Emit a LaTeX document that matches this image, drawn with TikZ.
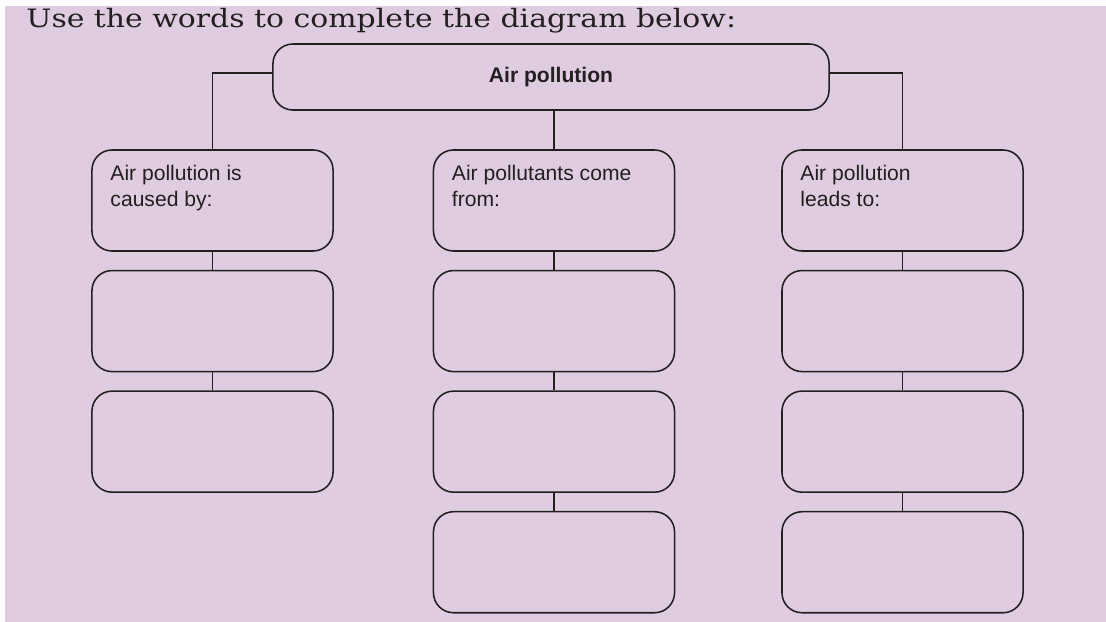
\documentclass[tikz,border=0pt]{standalone}
\usepackage{fontspec}
\setmainfont{DejaVu Serif}
\setsansfont{Liberation Sans}
\usetikzlibrary{positioning}
\definecolor{lavender}{RGB}{223,204,225}
\definecolor{ink}{RGB}{35,31,32}

\begin{document}
\begin{tikzpicture}[x=0.025cm, y=-0.025cm,
    frame/.style={draw=ink, line width=1.1pt, rounded corners=0.5cm, minimum width=6.025cm, minimum height=2.525cm, inner sep=0pt},
    lbl/.style={anchor=north west, font=\sffamily\fontsize{15}{18.4}\selectfont, text=ink, align=left, inner sep=0pt},
    link/.style={draw=ink, line width=1.2pt}]
    % Page and background
    \useasboundingbox (0,0) rectangle (1106,622);
    \fill[lavender] (5,6) rectangle (1106,622);

    % Heading
    \node[anchor=base west, inner sep=0pt, font=\fontsize{18}{21}\selectfont, text=ink, xscale=1.18, transform shape] (head) at (26,28) {Use the words to complete the diagram below:};

    % Main box
    \node[frame, minimum width=13.9cm, minimum height=1.65cm, font=\sffamily\bfseries\fontsize{15}{18}\selectfont, text=ink] (top) at (551,77) {Air pollution};

    % Left column
    \node[frame] (a1) at (212.5,200.5) {};
    \node[frame, below=0.45cm of a1] (a2) {};
    \node[frame, below=0.45cm of a2] (a3) {};
    \node[lbl] (ta) at ([xshift=0.475cm, yshift=-0.4cm]a1.north west) {Air pollution is\\caused by:};

    % Middle column
    \node[frame] (b1) at (554,200.5) {};
    \node[frame, below=0.45cm of b1] (b2) {};
    \node[frame, below=0.45cm of b2] (b3) {};
    \node[frame, below=0.45cm of b3] (b4) {};
    \node[lbl] (tb) at ([xshift=0.475cm, yshift=-0.4cm]b1.north west) {Air pollutants come\\from:};

    % Right column
    \node[frame] (c1) at (902.5,200.5) {};
    \node[frame, below=0.45cm of c1] (c2) {};
    \node[frame, below=0.45cm of c2] (c3) {};
    \node[frame, below=0.45cm of c3] (c4) {};
    \node[lbl] (tc) at ([xshift=0.475cm, yshift=-0.4cm]c1.north west) {Air pollution\\leads to:};

    % Links
    \draw[link] ([yshift=0.1cm]top.west) -| (a1.north);
    \draw[link] ([yshift=0.1cm]top.east) -| (c1.north);
    \draw[link] (b1.north |- top.south) -- (b1.north);
    \draw[link] (a1) -- (a2) (a2) -- (a3);
    \draw[link] (b1) -- (b2) (b2) -- (b3) (b3) -- (b4);
    \draw[link] (c1) -- (c2) (c2) -- (c3) (c3) -- (c4);
\end{tikzpicture}
\end{document}
